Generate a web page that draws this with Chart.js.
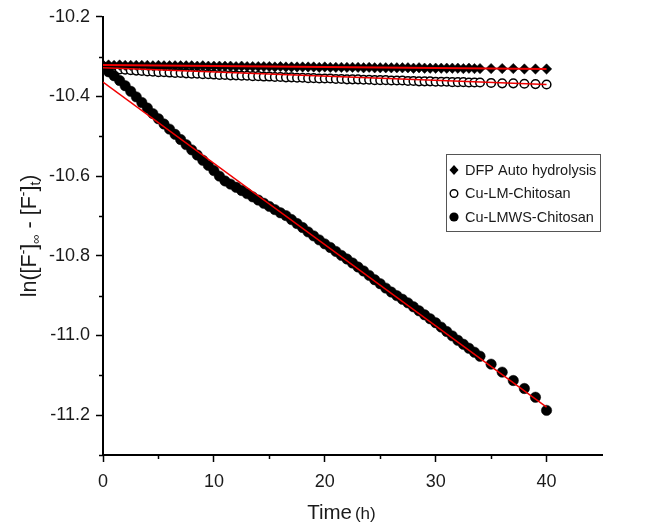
<!DOCTYPE html>
<html><head><meta charset="utf-8">
<script src="https://cdn.jsdelivr.net/npm/chart.js@4.4.1/dist/chart.umd.min.js"></script>
<style>html,body{margin:0;padding:0;background:#fff;}canvas{display:block}</style>
</head><body>
<canvas id="c" width="665" height="527"></canvas>
<script>
// ---- data ----
const times = [0,0.5,1,1.5,2,2.5,3,3.5,4,4.5,5,5.5,6,6.5,7,7.5,8,8.5,9,9.5,10,10.5,11,11.5,12,12.5,13,13.5,14,14.5,15,15.5,16,16.5,17,17.5,18,18.5,19,19.5,20,20.5,21,21.5,22,22.5,23,23.5,24,24.5,25,25.5,26,26.5,27,27.5,28,28.5,29,29.5,30,30.5,31,31.5,32,32.5,33,33.5,34,35,36,37,38,39,40];
const dfpAuto = [-10.321,-10.321,-10.322,-10.321,-10.322,-10.322,-10.322,-10.322,-10.322,-10.323,-10.322,-10.323,-10.323,-10.323,-10.323,-10.323,-10.323,-10.324,-10.323,-10.324,-10.324,-10.324,-10.324,-10.324,-10.325,-10.324,-10.325,-10.325,-10.325,-10.325,-10.325,-10.326,-10.325,-10.326,-10.326,-10.326,-10.326,-10.326,-10.326,-10.327,-10.326,-10.327,-10.327,-10.327,-10.327,-10.327,-10.327,-10.328,-10.327,-10.328,-10.328,-10.328,-10.328,-10.328,-10.328,-10.328,-10.329,-10.328,-10.329,-10.329,-10.329,-10.329,-10.329,-10.329,-10.329,-10.330,-10.329,-10.330,-10.330,-10.330,-10.330,-10.330,-10.331,-10.331,-10.331];
const cuLM = [-10.325,-10.328,-10.330,-10.332,-10.333,-10.334,-10.335,-10.336,-10.337,-10.338,-10.339,-10.339,-10.340,-10.341,-10.341,-10.342,-10.343,-10.343,-10.344,-10.344,-10.345,-10.346,-10.346,-10.347,-10.347,-10.348,-10.348,-10.349,-10.349,-10.350,-10.350,-10.351,-10.351,-10.352,-10.352,-10.353,-10.353,-10.354,-10.354,-10.355,-10.355,-10.355,-10.356,-10.356,-10.357,-10.357,-10.357,-10.358,-10.358,-10.359,-10.359,-10.359,-10.360,-10.360,-10.360,-10.361,-10.361,-10.362,-10.362,-10.362,-10.363,-10.363,-10.363,-10.364,-10.364,-10.364,-10.365,-10.365,-10.365,-10.366,-10.367,-10.367,-10.368,-10.369,-10.370];
const cuLMWS = [-10.330,-10.338,-10.348,-10.360,-10.373,-10.387,-10.401,-10.415,-10.429,-10.443,-10.456,-10.469,-10.482,-10.495,-10.508,-10.521,-10.534,-10.547,-10.560,-10.573,-10.586,-10.600,-10.612,-10.620,-10.628,-10.636,-10.644,-10.652,-10.660,-10.668,-10.676,-10.684,-10.692,-10.699,-10.709,-10.719,-10.729,-10.740,-10.750,-10.760,-10.770,-10.779,-10.789,-10.799,-10.808,-10.818,-10.828,-10.838,-10.849,-10.860,-10.870,-10.881,-10.891,-10.900,-10.909,-10.918,-10.928,-10.938,-10.948,-10.958,-10.968,-10.979,-10.990,-11.001,-11.012,-11.022,-11.032,-11.042,-11.052,-11.072,-11.092,-11.113,-11.133,-11.155,-11.188];
const fitTimes = [0, 40];
const dfpFit = [-10.321, -10.331];
const cuLMFit = [-10.328, -10.370];
const cuLMWSFit = [-10.364, -11.180];
const seriesNames = ['DFP Auto hydrolysis', 'Cu-LM-Chitosan', 'Cu-LMWS-Chitosan'];
const xMajorTicks = [0, 10, 20, 30, 40];
const xMinorTicks = [5, 15, 25, 35];
const yMinorTicks = [-10.3, -10.5, -10.7, -10.9, -11.1, -11.3];

// ---- chart ----
const FONT = '"Liberation Sans", Arial, Helvetica, sans-serif';
Chart.defaults.font.family = FONT;
Chart.defaults.color = '#1a1a1a';
const pts = (xs, ys) => xs.map((x, i) => ({x: x, y: ys[i]}));

const extras = {
  id: 'extras',
  afterDraw(chart) {
    const c = chart.ctx, xs = chart.scales.x, ys = chart.scales.y, a = chart.chartArea;
    c.save();
    // minor ticks
    c.strokeStyle = '#000'; c.lineWidth = 1.5;
    xMinorTicks.forEach(v => { const p = Math.round(xs.getPixelForValue(v)) + 0.5; c.beginPath(); c.moveTo(p, a.bottom); c.lineTo(p, a.bottom + 4); c.stroke(); });
    yMinorTicks.forEach(v => { const p = Math.round(ys.getPixelForValue(v)) + 0.5; c.beginPath(); c.moveTo(a.left, p); c.lineTo(a.left - 4, p); c.stroke(); });

    // x title
    c.fillStyle = '#1a1a1a'; c.textBaseline = 'alphabetic'; c.textAlign = 'left';
    const f1 = '20.5px ' + FONT, f2 = '17px ' + FONT;
    c.font = f1; const w1 = c.measureText('Time').width;
    c.font = f2; const w2 = c.measureText('(h)').width;
    const gap = 3, tw = w1 + gap + w2;
    const cx = xs.getPixelForValue(21.5);
    let sx = cx - tw / 2;
    c.font = f1; c.fillText('Time', sx, 519);
    c.font = f2; c.fillText('(h)', sx + w1 + gap, 519);

    // y title (rotated, with super/subscripts)
    const segs = [
      {t: 'ln([F', s: 21.5, dy: 0}, {t: '-', s: 14, dy: -8}, {t: ']', s: 21.5, dy: 0}, {t: '\u221E', s: 13, dy: 4},
      {t: ' - [F', s: 21.5, dy: 0}, {t: '-', s: 14, dy: -8}, {t: ']', s: 21.5, dy: 0}, {t: 't', s: 14, dy: 4}, {t: ')', s: 21.5, dy: 0}
    ];
    let total = 0;
    segs.forEach(g => { c.font = g.s + 'px ' + FONT; g.w = c.measureText(g.t).width; total += g.w; });
    c.translate(28, (a.top + a.bottom) / 2);
    c.rotate(-Math.PI / 2);
    let px = -total / 2;
    segs.forEach(g => { c.font = g.s + 'px ' + FONT; c.fillText(g.t, px, 7.5 + g.dy); px += g.w; });
    c.setTransform(1, 0, 0, 1, 0, 0);

    // legend box
    const lx = 446, ly = 154, lw = 154, lh = 77;
    c.strokeStyle = '#555'; c.lineWidth = 1;
    c.strokeRect(lx + 0.5, ly + 0.5, lw, lh);
    const rows = [ly + 16, ly + 39.5, ly + 63];
    const mx = lx + 8;
    c.fillStyle = '#000';
    c.beginPath(); c.moveTo(mx - 4.5, rows[0]); c.lineTo(mx, rows[0] - 5); c.lineTo(mx + 4.5, rows[0]); c.lineTo(mx, rows[0] + 5); c.closePath(); c.fill();
    c.beginPath(); c.arc(mx, rows[1], 3.8, 0, Math.PI * 2); c.fillStyle = '#fff'; c.fill(); c.lineWidth = 1.4; c.strokeStyle = '#000'; c.stroke();
    c.beginPath(); c.arc(mx, rows[2], 4.6, 0, Math.PI * 2); c.fillStyle = '#000'; c.fill();
    c.fillStyle = '#1a1a1a'; c.font = '14.5px ' + FONT; c.textBaseline = 'middle';
    seriesNames.forEach((n, i) => c.fillText(n, lx + 19, rows[i] + 0.5));
    c.restore();
  }
};

new Chart(document.getElementById('c'), {
  type: 'scatter',
  data: {
    datasets: [
      {label: 'DFP fit', data: pts(fitTimes, dfpFit), showLine: true, borderColor: '#f00000', borderWidth: 2, pointRadius: 0, order: 0},
      {label: 'Cu-LM fit', data: pts(fitTimes, cuLMFit), showLine: true, borderColor: '#f00000', borderWidth: 1.5, pointRadius: 0, order: 0},
      {label: 'Cu-LMWS fit', data: pts(fitTimes, cuLMWSFit), showLine: true, borderColor: '#f00000', borderWidth: 1.5, pointRadius: 0, order: 0},
      {label: seriesNames[1], data: pts(times, cuLM), pointStyle: 'circle', pointRadius: 4.3, pointBorderWidth: 1.5, pointBackgroundColor: '#fff', pointBorderColor: '#000', order: 3},
      {label: seriesNames[0], data: pts(times, dfpAuto), pointStyle: 'rectRot', pointRadius: 5.2, pointBorderWidth: 0.5, pointBackgroundColor: '#000', pointBorderColor: '#000', order: 2},
      {label: seriesNames[2], data: pts(times, cuLMWS), pointStyle: 'circle', pointRadius: 5.2, pointBorderWidth: 0.5, pointBackgroundColor: '#000', pointBorderColor: '#000', order: 1}
    ]
  },
  options: {
    responsive: false,
    animation: false,
    devicePixelRatio: 1,
    layout: {padding: {left: 0, top: 16, right: 63, bottom: 0}},
    plugins: {legend: {display: false}, tooltip: {enabled: false}},
    scales: {
      x: {
        type: 'linear', min: 0, max: 45,
        afterFit: s => { s.height = 72; },
        afterBuildTicks: s => { s.ticks = xMajorTicks.map(v => ({value: v})); },
        ticks: {stepSize: 10, includeBounds: false, padding: 9, font: {size: 18}, color: '#1a1a1a', maxRotation: 0},
        grid: {display: true, drawOnChartArea: false, drawTicks: true, tickLength: 7, tickWidth: 1.5, tickColor: '#000'},
        border: {display: true, color: '#000', width: 2}
      },
      y: {
        type: 'linear', min: -11.3, max: -10.2,
        afterFit: s => { s.width = 103; },
        ticks: {stepSize: 0.2, includeBounds: false, padding: 6, font: {size: 18}, color: '#1a1a1a', callback: v => Number(v).toFixed(1)},
        grid: {display: true, drawOnChartArea: false, drawTicks: true, tickLength: 7, tickWidth: 1.5, tickColor: '#000'},
        border: {display: true, color: '#000', width: 2}
      }
    }
  },
  plugins: [extras]
});
</script>
</body></html>
